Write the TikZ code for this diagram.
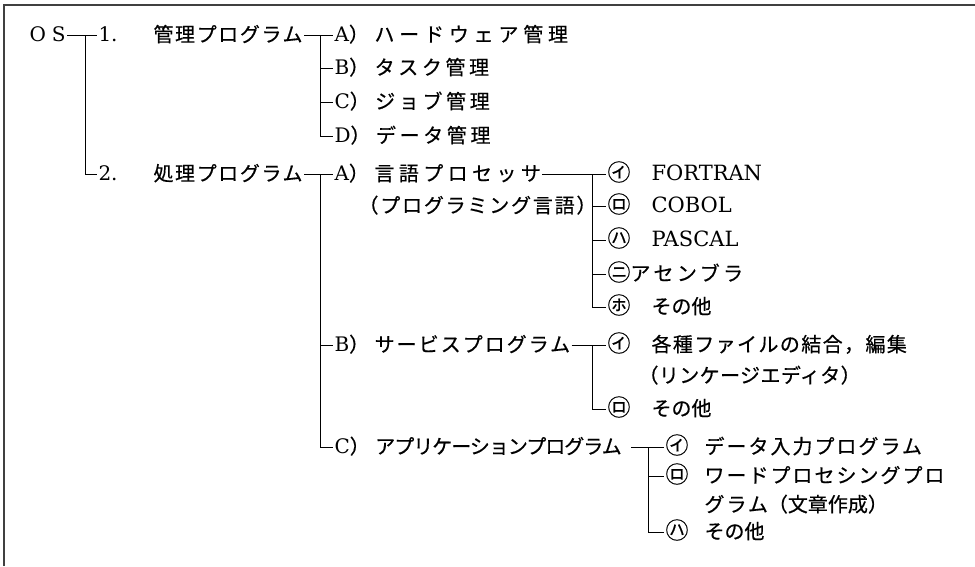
\documentclass[tikz,border=0pt]{standalone}
\usepackage{fontspec}
\setmainfont{DejaVu Serif}
\newfontfamily\jp[FakeBold=0.5]{Noto Sans CJK JP}
\newcommand\J[2][0]{{\jp\addfontfeature{LetterSpace=#1}\fontsize{20}{22}\selectfont #2}}
\newcommand\Js[3]{{\jp\addfontfeature{LetterSpace=#2}\fontsize{#1}{22}\selectfont #3}}
\newcommand\Mk[1]{{\jp\fontsize{23}{24}\selectfont #1}}
\newcommand\La[1]{{\fontsize{21}{22}\selectfont #1}}
\begin{document}
\begin{tikzpicture}[x=1pt,y=-1pt,line width=1pt,
  lab/.style={anchor=west,inner sep=0pt,outer sep=1.5pt,text height=14pt,text depth=0.5pt,
    font=\fontsize{20}{22}\selectfont},
  link/.style={line width=1pt}]
\useasboundingbox (0,0) rectangle (975,566);
\draw[line width=1.3pt,black!75] (4,566) -- (4,5) -- (975,5);
% rows
\def\ra{35}\def\rb{68}\def\rc{102}\def\rd{136}
\def\re{174}\def\rf{206}\def\rg{240}\def\rh{274}\def\ri{307}
\def\rj{345}\def\rk{376}\def\rl{409}
\def\rm{447}\def\rn{476}\def\ro{505}\def\rp{532}
% level 0/1
\node[lab] (os) at (28,\ra) {O\hspace{6pt}S};
\coordinate (j1) at (85,\ra);
\node[lab] (n1) at (97,\ra) {1.};
\node[lab] (n1t) at (152,\ra) {\J[8]{管理プログラム}};
\node[lab] (n2) at (97,\re) {2.};
\node[lab] (n2t) at (152,\re) {\J[8]{処理プログラム}};
\draw[link] (os.east) -- (n1.west);
\draw[link] (j1) |- (n2.west);
% group 1
\coordinate (j2) at (320,\ra);
\node[lab] (a1) at (333,\ra) {A\J{）}\hspace{5.5pt}\J[24]{ハードウェア管理}};
\node[lab] (b1) at (333,\rb) {B\J{）}\hspace{5.5pt}\J[18]{タスク管理}};
\node[lab] (c1) at (333,\rc) {C\J{）}\hspace{5.5pt}\J[18]{ジョブ管理}};
\node[lab] (d1) at (333,\rd) {D\J{）}\hspace{5.5pt}\J[18]{データ管理}};
\draw[link] (n1t.east) -- (a1.west);
\draw[link] (j2) |- (d1.west);
\draw[link] (j2 |- b1.west) -- (b1.west);
\draw[link] (j2 |- c1.west) -- (c1.west);
% group 2
\coordinate (j3) at (320,\re);
\node[lab] (a2) at (333,\re) {A\J{）}\hspace{5.5pt}\J[22]{言語プロセッサ}};
\node[lab] (a2b) at (357,\rf) {\J[9]{（プログラミング言語）}};
\node[lab] (b2) at (333,\rj) {B\J{）}\hspace{5.5pt}\J[10]{サービスプログラム}};
\node[lab] (c2) at (333,\rm) {C\J{）}\hspace{5.5pt}\J[-5]{アプリケーションプログラム}};
\draw[link] (n2t.east) -- (a2.west);
\draw[link] (j3) |- (c2.west);
\draw[link] (j3 |- b2.west) -- (b2.west);
% A) children
\coordinate (j4) at (592,\re);
\node[lab] (f1) at (606,\re) {\Mk{㋑}\hspace{21pt}\La{FORTRAN}};
\node[lab] (f2) at (606,\rf) {\Mk{㋺}\hspace{21pt}\La{COBOL}};
\node[lab] (f3) at (606,\rg) {\Mk{㋩}\hspace{21pt}\La{PASCAL}};
\node[lab] (f4) at (606,\rh) {\Mk{㋥}\J[17]{アセンブラ}};
\node[lab] (f5) at (606,\ri) {\Mk{㋭}\hspace{21pt}\J{その他}};
\draw[link] (a2.east) -- (f1.west);
\draw[link] (j4) |- (f5.west);
\draw[link] (j4 |- f2.west) -- (f2.west);
\draw[link] (j4 |- f3.west) -- (f3.west);
\draw[link] (j4 |- f4.west) -- (f4.west);
% B) children
\coordinate (j5) at (592,\rj);
\node[lab] (g1) at (606,\rj) {\Mk{㋑}\hspace{21pt}\J[7]{各種ファイルの結合，編集}};
\node[lab] (g1b) at (637,\rk) {\J[2]{（リンケージエディタ）}};
\node[lab] (g2) at (606,\rl) {\Mk{㋺}\hspace{21pt}\J{その他}};
\draw[link] (b2.east) -- (g1.west);
\draw[link] (j5) |- (g2.west);
% C) children
\coordinate (j6) at (648,\rm);
\node[lab] (h1) at (664,\rm) {\Mk{㋑}\hspace{16pt}\J[10]{データ入力プログラム}};
\node[lab] (h2) at (664,\rn) {\Mk{㋺}\hspace{16pt}\J[10]{ワードプロセシングプロ}};
\node[lab] (h2b) at (703,\ro) {\J[10]{グラム}\J{（文章作成）}};
\node[lab] (h3) at (664,\rp) {\Mk{㋩}\hspace{16pt}\J{その他}};
\draw[link,shorten <=8pt] (c2.east) -- (h1.west);
\draw[link] (j6) |- (h3.west);
\draw[link] (j6 |- h2.west) -- (h2.west);
\end{tikzpicture}
\end{document}
